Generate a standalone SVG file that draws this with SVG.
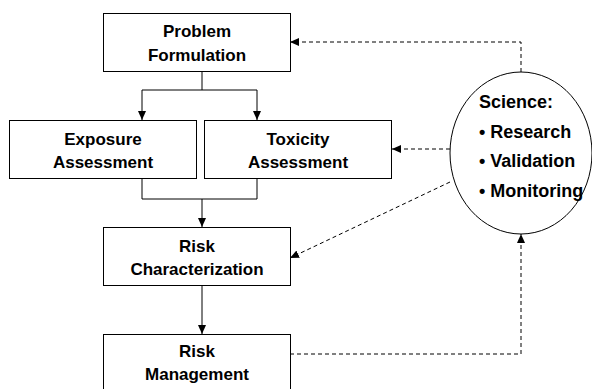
<svg xmlns="http://www.w3.org/2000/svg" width="592" height="389" viewBox="0 0 592 389">
<style>
.box{fill:#fff;stroke:#000;stroke-width:1}
.t{font-family:"Liberation Sans",Arial,sans-serif;font-weight:bold;font-size:17px;text-anchor:middle;fill:#000}
.s{font-family:"Liberation Sans",Arial,sans-serif;font-weight:bold;font-size:18px;fill:#000}
.ln{fill:none;stroke:#000;stroke-width:1}
.dl{fill:none;stroke:#000;stroke-width:1;stroke-dasharray:4,3}
</style>
<defs>
<marker id="ah" markerWidth="10" markerHeight="10" refX="9" refY="5" orient="auto" markerUnits="userSpaceOnUse">
<path d="M0,1 L9,5 L0,9 Z" fill="#000"/>
</marker>
</defs>
<rect width="592" height="389" fill="#fff"/>
<g id="connectors">
<path class="ln" d="M202,71 V90 M142,90 H257"/>
<path class="ln" d="M142,90 V120" marker-end="url(#ah)"/>
<path class="ln" d="M257,90 V120" marker-end="url(#ah)"/>
<path class="ln" d="M142,178 V199 H257 V178"/>
<path class="ln" d="M202,199 V227" marker-end="url(#ah)"/>
<path class="ln" d="M202,286 V334" marker-end="url(#ah)"/>
<path class="dl" d="M521,72 V42 H290" marker-end="url(#ah)"/>
<path class="dl" d="M450,149 H392" marker-end="url(#ah)"/>
<path class="dl" d="M450,182 L290,258" marker-end="url(#ah)"/>
<path class="dl" d="M290,354 H521 V234" marker-end="url(#ah)"/>
</g>
<g id="problem-formulation">
<rect class="box" x="103.5" y="13.5" width="187" height="58"/>
<text class="t" x="197" y="37">Problem</text>
<text class="t" x="197" y="61">Formulation</text>
</g>
<g id="exposure-assessment">
<rect class="box" x="9.5" y="120.5" width="187" height="58"/>
<text class="t" x="103" y="145">Exposure</text>
<text class="t" x="103" y="168">Assessment</text>
</g>
<g id="toxicity-assessment">
<rect class="box" x="204.5" y="120.5" width="187" height="58"/>
<text class="t" x="298" y="145">Toxicity</text>
<text class="t" x="298" y="168">Assessment</text>
</g>
<g id="risk-characterization">
<rect class="box" x="103.5" y="227.5" width="187" height="58"/>
<text class="t" x="197" y="252">Risk</text>
<text class="t" x="197" y="275">Characterization</text>
</g>
<g id="risk-management">
<rect class="box" x="103.5" y="334.5" width="187" height="64"/>
<text class="t" x="197" y="357">Risk</text>
<text class="t" x="197" y="380">Management</text>
</g>
<g id="science">
<ellipse cx="521" cy="153" rx="71" ry="81" fill="#fff" stroke="#000" stroke-width="1"/>
<text class="s" x="479" y="108">Science:</text>
<text class="s" x="479" y="138">• Research</text>
<text class="s" x="479" y="167">• Validation</text>
<text class="s" x="479" y="197">• Monitoring</text>
</g>
</svg>
